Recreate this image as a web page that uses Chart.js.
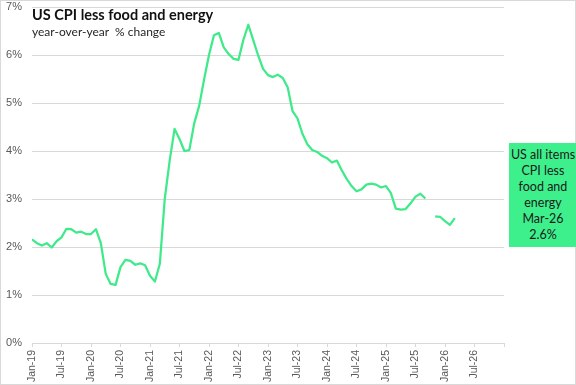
<!DOCTYPE html>
<html>
<head>
<meta charset="utf-8">
<script src="https://cdn.jsdelivr.net/npm/chart.js@4.4.1/dist/chart.umd.min.js"></script>
<style>
    html, body { margin: 0; padding: 0; background: #fff; }
    #wrap { position: relative; width: 576px; height: 385px; box-sizing: border-box; border: 1px solid #d9d9d9; }
    #wrap canvas { position: absolute; left: 0; top: 0; }
    .title { position: absolute; left: 31px; top: 5px; font: bold 14.5px Lato, "Noto Sans", sans-serif; color: #111; white-space: nowrap; }
    .subtitle { position: absolute; left: 31px; top: 23px; font: 12px Lato, "Noto Sans", sans-serif; color: #262626; white-space: pre; }
    .callout { position: absolute; left: 508px; top: 142px; width: 68px; height: 104px; background: #3ef08c;
        font: 12.5px Lato, "Noto Sans", sans-serif; color: #1a1a1a; text-align: center; line-height: 16px;
        display: flex; align-items: center; justify-content: center; }
</style>
</head>
<body>
<div id="wrap">
    <canvas id="cpiChart" width="576" height="385"></canvas>
    <div class="title">US CPI less food and energy</div>
    <div class="subtitle">year-over-year  % change</div>
    <div class="callout"><div>US all items<br>CPI less<br>food and<br>energy<br>Mar-26<br>2.6%</div></div>
</div>
<script>
// months on the axis, Jan-19 .. Jan-27
const monthNames = ['Jan', 'Feb', 'Mar', 'Apr', 'May', 'Jun', 'Jul', 'Aug', 'Sep', 'Oct', 'Nov', 'Dec'];
const years = ['19', '20', '21', '22', '23', '24', '25', '26', '27'];
const months = [];
years.forEach(y => monthNames.forEach(m => months.push(m + '-' + y)));

// core CPI, % change year-over-year, Jan-19 .. Mar-26 (Oct-25 not published)
const core2019 = [2.16, 2.08, 2.03, 2.08, 1.99, 2.12, 2.2, 2.38, 2.37, 2.3, 2.32, 2.27];
const core2020 = [2.27, 2.37, 2.08, 1.44, 1.23, 1.21, 1.58, 1.73, 1.71, 1.63, 1.66, 1.62];
const core2021 = [1.4, 1.28, 1.65, 3.0, 3.8, 4.46, 4.25, 4.0, 4.02, 4.58, 4.94, 5.49];
const core2022 = [6.0, 6.41, 6.46, 6.16, 6.02, 5.92, 5.9, 6.32, 6.63, 6.31, 5.99, 5.71];
const core2023 = [5.58, 5.54, 5.59, 5.52, 5.33, 4.83, 4.68, 4.36, 4.14, 4.02, 3.98, 3.9];
const core2024 = [3.85, 3.76, 3.8, 3.6, 3.42, 3.27, 3.16, 3.2, 3.3, 3.32, 3.3, 3.24];
const core2025 = [3.27, 3.12, 2.8, 2.78, 2.79, 2.91, 3.05, 3.11, 3.01, null, 2.64, 2.63];
const core2026 = [2.54, 2.46, 2.6];
const coreValues = [].concat(core2019, core2020, core2021, core2022, core2023, core2024, core2025, core2026);

const yTicks = [0, 1, 2, 3, 4, 5, 6, 7];

document.addEventListener('DOMContentLoaded', function() {
    const ctx = document.getElementById('cpiChart').getContext('2d');
    const points = coreValues.map((v, i) => ({ x: i, y: v }));

    new Chart(ctx, {
        type: 'line',
        data: {
            datasets: [{
                label: 'US CPI less food and energy',
                data: points,
                borderColor: '#3eea8a',
                borderWidth: 2.25,
                pointRadius: 0,
                tension: 0,
                spanGaps: false,
                borderJoinStyle: 'round'
            }]
        },
        options: {
            responsive: false,
            animation: false,
            layout: { padding: { left: 0, right: 73, top: 0, bottom: 0 } },
            plugins: { legend: { display: false }, tooltip: { enabled: false } },
            scales: {
                x: {
                    type: 'linear',
                    min: 0,
                    max: months.length - 12,
                    afterBuildTicks: scale => {
                        scale.ticks = [];
                        for (let i = 0; i <= months.length - 12; i += 6) scale.ticks.push({ value: i });
                    },
                    afterFit: scale => { scale.height = 43; scale.paddingLeft = 0; scale.paddingRight = 0; },
                    border: { display: true, color: '#d9d9d9' },
                    grid: { drawOnChartArea: false, color: '#d9d9d9', tickLength: 4 },
                    ticks: {
                        autoSkip: false,
                        minRotation: 90,
                        maxRotation: 90,
                        padding: 3,
                        color: '#595959',
                        font: { family: 'Liberation Sans', size: 10.5 },
                        callback: v => (v < months.length - 12 ? months[v] : '')
                    }
                },
                y: {
                    min: 0,
                    max: 7,
                    afterBuildTicks: scale => { scale.ticks = yTicks.map(v => ({ value: v })); },
                    afterFit: scale => { scale.width = 31; scale.paddingTop = 6; scale.paddingBottom = 0; },
                    border: { display: false },
                    grid: { color: '#d9d9d9', drawTicks: false },
                    ticks: {
                        padding: 10,
                        color: '#595959',
                        font: { family: 'Liberation Sans', size: 11 },
                        callback: v => v + '%'
                    }
                }
            }
        }
    });
});
</script>
</body>
</html>
